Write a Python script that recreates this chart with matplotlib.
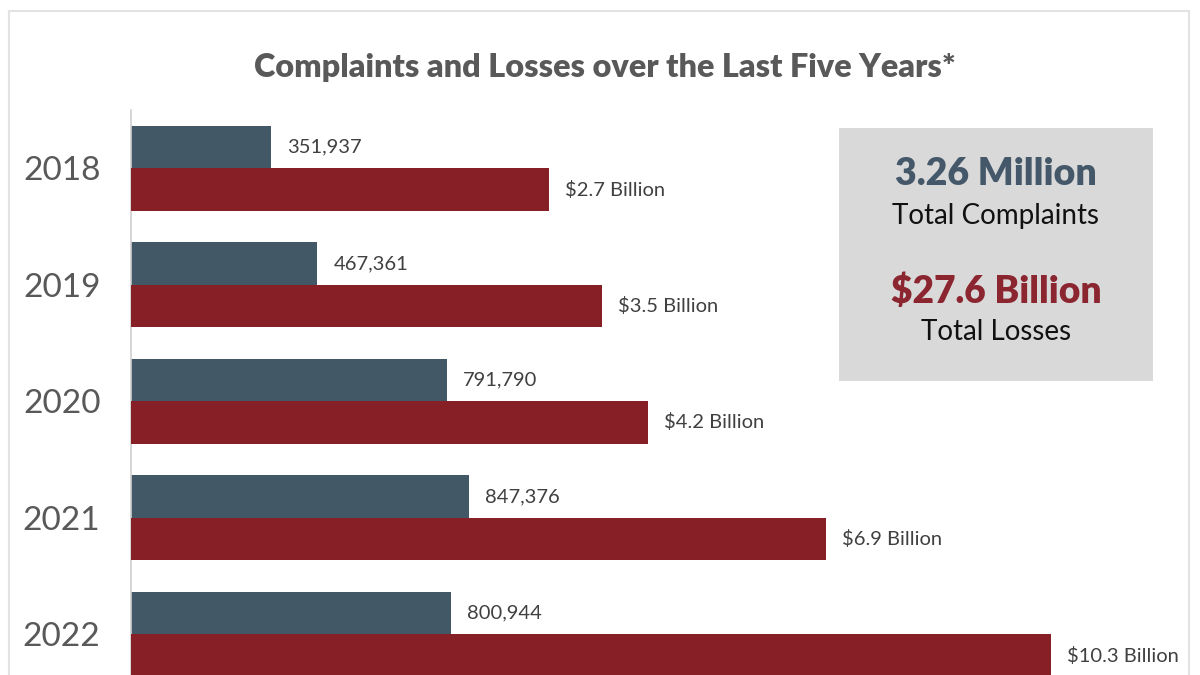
import matplotlib
matplotlib.use("Agg")
import matplotlib.pyplot as plt
from matplotlib.patches import Rectangle

plt.rcParams['font.family'] = ['Lato', 'DejaVu Sans']

years = ["2018", "2019", "2020", "2021", "2022"]
complaints = [351937, 467361, 791790, 847376, 800944]
losses_billion = [2.7, 3.5, 4.2, 6.9, 10.3]
loss_labels = ["$2.7 Billion", "$3.5 Billion", "$4.2 Billion", "$6.9 Billion", "$10.3 Billion"]
title = "Complaints and Losses over the Last Five Years*"
total_complaints = "3.26 Million"
total_losses = "$27.6 Billion"

BLUE = "#425866"
RED = "#861f26"
W, H = 1200, 675
fig = plt.figure(figsize=(12, 6.75), dpi=100)
fig.patch.set_facecolor("white")

def fx(px):
    return px / W

def fy(py):
    return 1 - py / H

# outer border
fig.add_artist(Rectangle((fx(9), fy(690)), fx(1189) - fx(9), fy(11) - fy(690),
                         transform=fig.transFigure, fill=False, edgecolor="#e3e3e3", lw=1.5))

# axes
left_px, right_px, top_px, bot_px = 131, 1189, 110, 692.5
ax = fig.add_axes([fx(left_px), fy(bot_px), fx(right_px) - fx(left_px), (bot_px - top_px) / H])
ax.patch.set_alpha(0)
width_px = right_px - left_px
px_per_complaint = 399e-6
ax.set_xlim(0, width_px / px_per_complaint)
ax.set_ylim(len(years) - 0.5, -0.5)

ax2 = ax.twiny()
px_per_billion = 66.0
zero_offset_px = 240
lo = -zero_offset_px / px_per_billion
ax2.set_xlim(lo, lo + width_px / px_per_billion)
ax2.set_ylim(len(years) - 0.5, -0.5)

h = 42.5 / 116.5
ypos = list(range(len(years)))
ax.barh([y - h / 2 for y in ypos], complaints, height=h, color=BLUE, left=0)
ax2.barh([y + h / 2 for y in ypos], [v - lo for v in losses_billion], left=lo, height=h, color=RED)

for y, v in zip(ypos, complaints):
    ax.annotate(f"{v:,}", (v, y - h / 2), xytext=(16, 0), textcoords="offset pixels",
                va="center", ha="left", fontsize=14.5, color="#404040")
for y, v, lab in zip(ypos, losses_billion, loss_labels):
    ax2.annotate(lab, (v, y + h / 2), xytext=(16, 0), textcoords="offset pixels",
                 va="center", ha="left", fontsize=14.5, color="#404040")

for a in (ax, ax2):
    for s in ("top", "right", "bottom"):
        a.spines[s].set_visible(False)
    a.tick_params(axis="x", which="both", length=0, labelbottom=False, labeltop=False)
ax2.spines["left"].set_visible(False)
ax.spines["left"].set_color("#d0d0d0")
ax.spines["left"].set_linewidth(1.2)
ax.set_yticks(ypos)
ax.set_yticklabels(years, fontsize=24, color="#595959")
ax.tick_params(axis="y", length=0, pad=22)
ax2.tick_params(axis="y", length=0, labelleft=False)

# title
fig.text(fx(605), fy(68), title, ha="center", va="center", fontsize=23.3,
         fontweight="heavy", color="#595959")

# summary box
fig.add_artist(Rectangle((fx(839), fy(381)), fx(1153) - fx(839), fy(128) - fy(381),
                         transform=fig.transFigure, facecolor="#d9d9d9", edgecolor="none"))
fig.text(fx(996), fy(174), total_complaints, ha="center", va="center", fontsize=27,
         fontweight="heavy", color="#44586a")
fig.text(fx(996), fy(216), "Total Complaints", ha="center", va="center", fontsize=20,
         color="#111111")
fig.text(fx(996), fy(291), total_losses, ha="center", va="center", fontsize=26.7,
         fontweight="heavy", color="#8b2530")
fig.text(fx(996), fy(332), "Total Losses", ha="center", va="center", fontsize=20,
         color="#111111")

fig.savefig("out.png", dpi=100)
